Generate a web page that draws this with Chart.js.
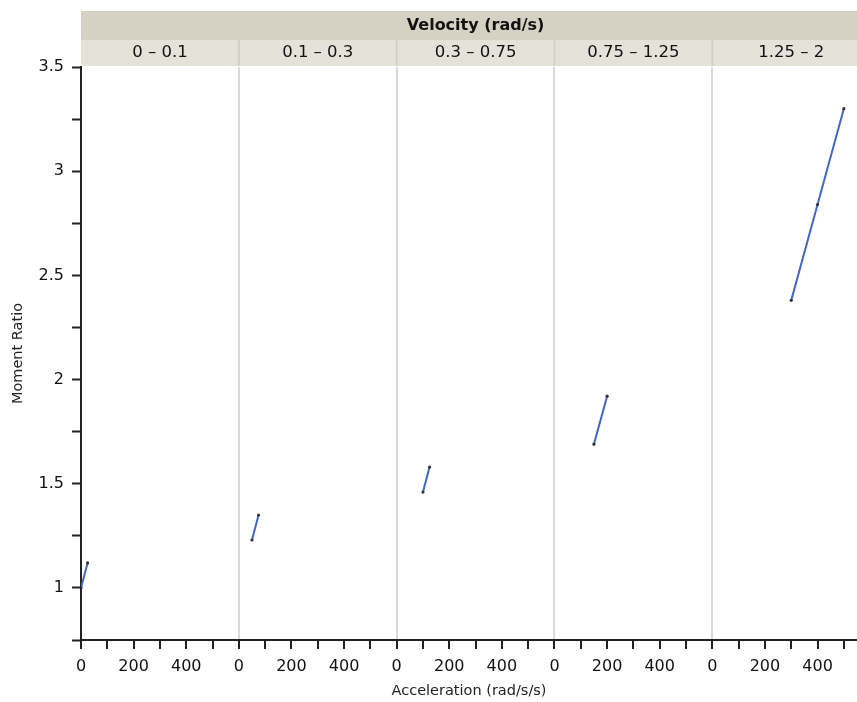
<!DOCTYPE html>
<html>
<head>
<meta charset="utf-8">
<script src="https://cdn.jsdelivr.net/npm/chart.js@4"></script>
<style>
  html, body { margin: 0; background: #fff; }
  #wrap { width: 857px; height: 702px; }
</style>
</head>
<body>
<div id="wrap"><canvas id="c"></canvas></div>
<script>
// velocity bins (one panel each) and the x-range each panel covers
const panelLabels = ["0 – 0.1", "0.1 – 0.3", "0.3 – 0.75", "0.75 – 1.25", "1.25 – 2"];
const panelSpan = 600;
const lastPanelMax = 550; // right-most panel is cut off at the edge

// acceleration (rad/s/s) and moment ratio for each panel
const accel = [[0, 25], [50, 75], [100, 125], [150, 200], [300, 400, 500]];
const ratio = [[1.0, 1.12], [1.23, 1.35], [1.46, 1.58], [1.69, 1.92], [2.38, 2.84, 3.30]];

const xTickLabels = [0, 200, 400];
const yTickLabels = [1, 1.5, 2, 2.5, 3, 3.5];

const font = "'DejaVu Sans', sans-serif";

const datasets = panelLabels.map((lbl, i) => ({
  label: lbl,
  data: accel[i].map((a, j) => ({ x: i * panelSpan + a, y: ratio[i][j] })),
  borderColor: "#4466cc",
  borderWidth: 2,
  pointRadius: 1.6,
  pointBackgroundColor: "#333",
  pointBorderColor: "#333",
  pointBorderWidth: 0,
  showLine: true,
}));

// draws the "Velocity (rad/s)" strip and the panel bin labels
const headerStrip = {
  id: "headerStrip",
  afterDraw(chart) {
    const { ctx, chartArea } = chart;
    const x = chart.scales.x;
    const left = chartArea.left, right = chart.width;
    ctx.save();
    ctx.fillStyle = "#d6d2c3";
    ctx.fillRect(left, 11, right - left, 29);
    ctx.fillStyle = "#e5e3d9";
    ctx.fillRect(left, 40, right - left, 26);

    ctx.fillStyle = "#111";
    ctx.textAlign = "center";
    ctx.textBaseline = "middle";
    ctx.font = "bold 16px " + font;
    ctx.fillText("Velocity (rad/s)", x.getPixelForValue(panelSpan * panelLabels.length / 2), 26);

    ctx.font = "16.5px " + font;
    panelLabels.forEach((lbl, i) => {
      if (i > 0) {
        const px = x.getPixelForValue(i * panelSpan);
        ctx.fillStyle = "#d2d0c8";
        ctx.fillRect(px - 1, 40, 2, 26);
      }
      ctx.fillStyle = "#111";
      ctx.fillText(lbl, x.getPixelForValue((i + 0.5) * panelSpan), 53);
    });
    ctx.restore();
  },
};

new Chart(document.getElementById("c"), {
  type: "scatter",
  data: { datasets },
  plugins: [headerStrip],
  options: {
    responsive: true,
    maintainAspectRatio: false,
    animation: false,
    layout: { autoPadding: false, padding: { top: 67, right: 0, left: 0, bottom: 0 } },
    plugins: { legend: { display: false }, tooltip: { enabled: false } },
    scales: {
      x: {
        type: "linear",
        min: 0,
        max: (panelLabels.length - 1) * panelSpan + lastPanelMax,
        afterFit: (s) => { s.height = 62; s.paddingLeft = 0; s.paddingRight = 0; },
        afterBuildTicks: (s) => {
          const t = [];
          for (let v = 0; v <= s.max; v += 100) t.push({ value: v });
          s.ticks = t;
        },
        border: { color: "#222", width: 2 },
        grid: {
          drawOnChartArea: true,
          tickLength: 9,
          tickWidth: 2,
          tickColor: "#222",
          lineWidth: 2,
          color: (c) => (c.tick && c.tick.value > 0 && c.tick.value % panelSpan === 0) ? "#d9d9d9" : "rgba(0,0,0,0)",
        },
        ticks: {
          autoSkip: false,
          maxRotation: 0,
          padding: 8,
          color: "#111",
          font: { family: font, size: 16 },
          callback: (v) => {
            const r = v % panelSpan;
            return xTickLabels.includes(r) ? String(r) : "";
          },
        },
        title: {
          display: true,
          text: "Acceleration (rad/s/s)",
          color: "#222",
          font: { family: font, size: 14.5 },
          padding: { top: 0, bottom: 2 },
        },
      },
      y: {
        min: 0.75,
        max: 3.5,
        afterFit: (s) => { s.width = 81; },
        afterBuildTicks: (s) => {
          const t = [];
          for (let v = 0.75; v <= 3.5001; v += 0.25) t.push({ value: Math.round(v * 100) / 100 });
          s.ticks = t;
        },
        border: { color: "#222", width: 2 },
        grid: {
          drawOnChartArea: false,
          tickLength: 9,
          tickWidth: 2,
          tickColor: "#222",
        },
        ticks: {
          autoSkip: false,
          padding: 8,
          color: "#111",
          font: { family: font, size: 16 },
          callback: (v) => (yTickLabels.includes(v) ? String(v) : ""),
        },
        title: {
          display: true,
          text: "Moment Ratio",
          color: "#222",
          font: { family: font, size: 14.5 },
          padding: { top: 10, bottom: 0 },
        },
      },
    },
  },
});
</script>
</body>
</html>
